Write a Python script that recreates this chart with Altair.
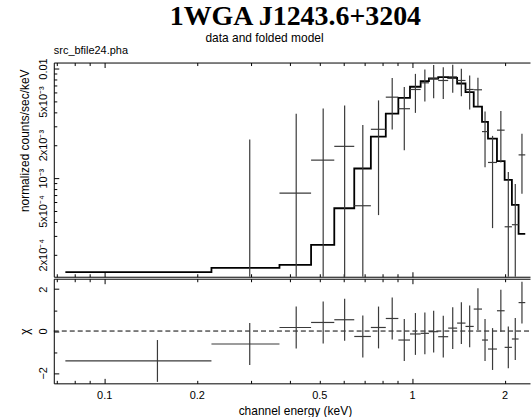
import altair as alt
import numpy as np
import pandas as pd

# Channel grouping (keV): lower / upper edge of each spectral bin
e_lo = [0.0748, 0.2231, 0.3711, 0.4701, 0.5592, 0.6493, 0.7352, 0.8220,
        0.9030, 0.9852, 1.0670, 1.1353, 1.2167, 1.3110, 1.4017, 1.4922,
        1.5871, 1.6886, 1.7658, 1.8884, 2.0000, 2.1116, 2.2198]
e_hi = e_lo[1:] + [2.3335]

# Background-subtracted count rate and 1-sigma error (counts/sec/keV)
rate = [-3.0e-4, -3.3e-3, 7.31e-4, 1.46e-3, 1.95e-3, 5.6e-4, 2.79e-3, 5.48e-3,
        4.3e-3, 6.44e-3, 7.41e-3, 8.05e-3, 7.78e-3, 8.4e-3, 7.78e-3, 6.44e-3,
        6.4e-3, 2.66e-3, 1.39e-3, 2.74e-3, 3.6e-4, 3.76e-4, 1.63e-3]
rate_err = [3.1e-4, 5.55e-3, 3.14e-3, 2.87e-3, 2.66e-3, 2.49e-3, 2.33e-3, 2.7e-3,
            2.5e-3, 2.5e-3, 2.4e-3, 2.7e-3, 2.5e-3, 2.4e-3, 2.2e-3, 2.2e-3,
            1.85e-3, 1.4e-3, 1.04e-3, 1.35e-3, 7.8e-4, 5.1e-4, 9.1e-4]

# Folded model in each bin
model = [1.39e-4, 1.52e-4, 1.62e-4, 2.46e-4, 5.31e-4, 1.225e-3, 2.39e-3, 3.87e-3,
         5.41e-3, 6.82e-3, 7.67e-3, 8.11e-3, 8.34e-3, 8.22e-3, 7.3e-3, 6.1e-3,
         4.5e-3, 3.26e-3, 2.29e-3, 1.43e-3, 9.66e-4, 5.71e-4, 3.1e-4]

# Residuals (data - model) / error
delchi = [-1.43, -0.62, 0.17, 0.41, 0.54, -0.26, 0.17, 0.60, -0.43, -0.14,
          -0.11, -0.03, -0.27, 0.14, 0.38, 0.22, 1.05, -0.43, -0.86, 0.97,
          -0.78, -0.38, 1.36]

# Axis ranges and tick values
X_MIN, X_MAX = 0.0686, 2.418
Y_MIN, Y_MAX = 1.26e-4, 0.01134
CHI_MIN, CHI_MAX = -2.5, 2.5
x_ticks = [0.07, 0.08, 0.09, 0.1, 0.2, 0.3, 0.4, 0.5, 0.6, 0.7, 0.8, 0.9, 1, 2]
x_labels = [0.1, 0.2, 0.5, 1, 2]
y_ticks = [2e-4, 3e-4, 4e-4, 5e-4, 6e-4, 7e-4, 8e-4, 9e-4, 1e-3,
           2e-3, 3e-3, 4e-3, 5e-3, 6e-3, 7e-3, 8e-3, 9e-3, 0.01]
y_labels = [2e-4, 5e-4, 1e-3, 2e-3, 5e-3, 0.01]
chi_ticks = [-2, -1, 0, 1, 2]
chi_labels = [-2, 0, 2]

W, H_TOP, H_RES = 478, 215, 105
FONT = "Liberation Sans"
INK = "black"
ERR_INK = "#3a3a3a"

# ---- tables -------------------------------------------------------------
spec = pd.DataFrame({"e_lo": e_lo, "e_hi": e_hi, "rate": rate,
                     "err": rate_err, "model": model, "chi": delchi})
spec["e_mid"] = (spec["e_lo"] + spec["e_hi"]) / 2
spec["r_lo"] = np.maximum(spec["rate"] - spec["err"], Y_MIN)
spec["r_hi"] = spec["rate"] + spec["err"]
spec["c_lo"] = spec["chi"] - 1
spec["c_hi"] = spec["chi"] + 1

# bars that reach into the plotted range on a log axis
bars_v = spec[spec["r_hi"] > Y_MIN]
bars_h = spec[spec["rate"] > Y_MIN]

# model histogram as a step line (closing point at the last upper edge)
steps = pd.DataFrame({"e": e_lo + [e_hi[-1]], "m": model + [model[-1]]})
zero = pd.DataFrame({"e": [X_MIN, X_MAX], "z": [0.0, 0.0]})

xs = alt.Scale(type="log", domain=[X_MIN, X_MAX], nice=False)
ys = alt.Scale(type="log", domain=[Y_MIN, Y_MAX], nice=False)
cs = alt.Scale(domain=[CHI_MIN, CHI_MAX], nice=False)


def tick_len(test):
    return {"condition": {"test": test, "value": 5}, "value": 3}


def edge_axis(orient, offset, values, test, domain):
    # frame edge with ticks pointing into the plot, no labels
    return alt.Axis(orient=orient, offset=offset, values=values, labels=False,
                    title=None, ticks=True, tickSize=tick_len(test),
                    tickColor=INK, tickWidth=1, domain=domain,
                    domainColor=INK, domainWidth=1, grid=False)


X_MAJOR = "datum.value == 0.1 || datum.value == 1"
Y_MAJOR = "datum.value == 0.001 || datum.value == 0.01"
C_MAJOR = "datum.value == -2 || datum.value == 0 || datum.value == 2"

y_label_expr = ("datum.value == 0.01 ? '0.01' : "
                "datum.value == 0.005 ? '5x10⁻³' : "
                "datum.value == 0.002 ? '2x10⁻³' : "
                "datum.value == 0.001 ? '10⁻³' : "
                "datum.value == 0.0005 ? '5x10⁻⁴' : '2x10⁻⁴'")

side_label_style = dict(labelAngle=270, labelAlign="center", labelBaseline="bottom",
                        labelPadding=5, ticks=False, tickSize=0, domain=True,
                        domainColor=INK, domainWidth=1, grid=False,
                        labelFlush=False, labelOverlap=False,
                        titleFont=FONT, titleFontSize=12, titleFontWeight="normal",
                        titleColor=INK, titlePadding=6)

# ---- upper panel: data and folded model --------------------------------
model_line = alt.Chart(steps).mark_line(
    interpolate="step-after", color=INK, strokeWidth=1.8
).encode(
    x=alt.X("e:Q", scale=xs, axis=edge_axis("top", -H_TOP, x_ticks, X_MAJOR, True)),
    y=alt.Y("m:Q", scale=ys, axis=alt.Axis(
        orient="left", values=y_labels, labelExpr=y_label_expr,
        title="normalized counts/sec/keV", titleY=78, **side_label_style)),
)

err_v = alt.Chart(bars_v).mark_rule(color=ERR_INK, strokeWidth=1.2).encode(
    x=alt.X("e_mid:Q", scale=xs, axis=edge_axis("bottom", -H_TOP, x_ticks, X_MAJOR, True)),
    y=alt.Y("r_lo:Q", scale=ys, axis=edge_axis("right", -W, y_ticks, Y_MAJOR, False)),
    y2="r_hi:Q",
)

err_h = alt.Chart(bars_h).mark_rule(color=ERR_INK, strokeWidth=1.2).encode(
    x=alt.X("e_lo:Q", scale=xs, axis=None),
    x2="e_hi:Q",
    y=alt.Y("rate:Q", scale=ys, axis=None),
)

upper = alt.layer(model_line, err_v, err_h).resolve_axis(
    x="independent", y="independent"
).properties(
    width=W, height=H_TOP,
    title=alt.TitleParams("src_bfile24.pha", anchor="start", frame="group",
                          font=FONT, fontSize=11, fontWeight="normal",
                          color=INK, offset=2),
)

# ---- lower panel: residuals ---------------------------------------------
zero_line = alt.Chart(zero).mark_line(color=INK, strokeWidth=1, strokeDash=[5, 3]).encode(
    x=alt.X("e:Q", scale=xs, axis=edge_axis("bottom", -H_RES, x_ticks, X_MAJOR, True)),
    y=alt.Y("z:Q", scale=cs, axis=alt.Axis(
        orient="left", values=chi_labels, format="d", title="χ", **side_label_style)),
)

res_v = alt.Chart(spec).mark_rule(color=ERR_INK, strokeWidth=1.2).encode(
    x=alt.X("e_mid:Q", scale=xs, axis=alt.Axis(
        orient="bottom", values=x_labels, labelExpr="format(datum.value, '~g')",
        ticks=False, tickSize=0, domain=False, grid=False, labelPadding=6,
        labelFlush=False, labelOverlap=False,
        title="channel energy (keV)", titleFont=FONT, titleFontSize=12,
        titleFontWeight="normal", titleColor=INK, titlePadding=5, titleX=242)),
    y=alt.Y("c_lo:Q", scale=cs, axis=edge_axis("right", -W, chi_ticks, C_MAJOR, False)),
    y2="c_hi:Q",
)

res_h = alt.Chart(spec).mark_rule(color=ERR_INK, strokeWidth=1.2).encode(
    x=alt.X("e_lo:Q", scale=xs, axis=edge_axis("top", -H_RES, x_ticks, X_MAJOR, True)),
    x2="e_hi:Q",
    y=alt.Y("chi:Q", scale=cs, axis=None),
)

lower = alt.layer(zero_line, res_v, res_h).resolve_axis(
    x="independent", y="independent"
).properties(width=W, height=H_RES)

# panels with the plot description line above them
panels = alt.vconcat(upper, lower, spacing=0).properties(
    title=alt.TitleParams("data and folded model", anchor="middle", dx=-11,
                          font=FONT, fontSize=12, fontWeight="normal",
                          color=INK, offset=0),
)

chart = alt.vconcat(panels).properties(
    padding={"left": 19, "top": 2, "right": 0, "bottom": 0},
    title=alt.TitleParams(
        "1WGA J1243.6+3204", font="Liberation Serif", fontSize=28,
        fontWeight="bold", color=INK, anchor="middle", offset=1, dx=20,
    ),
).configure_view(stroke=None).configure_axis(
    labelFont=FONT, labelFontSize=11, labelColor=INK,
)

chart.save("out.html", embed_options={"renderer": "svg", "actions": False})
